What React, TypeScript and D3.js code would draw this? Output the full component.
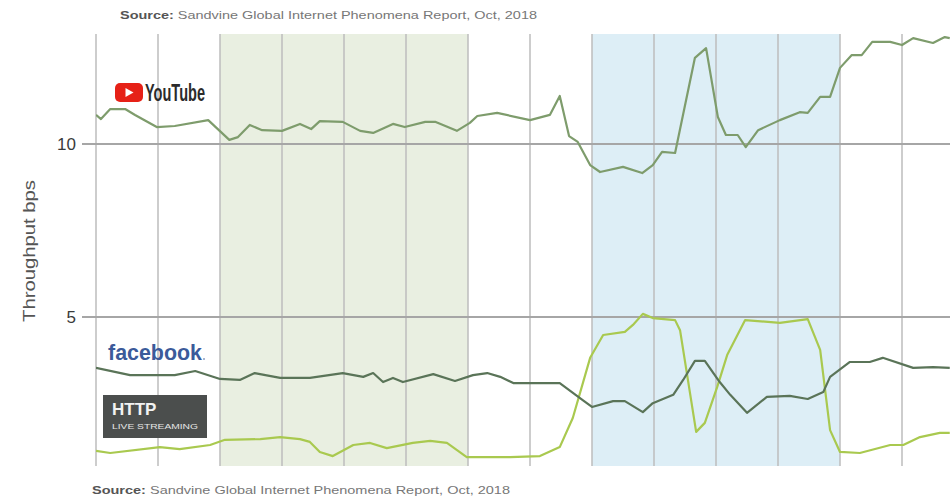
import React from 'react';
import * as d3 from 'd3';

// time axis: one unit per vertical gridline
const gridTicks = d3.range(0, 14);
const yTicks = [5, 10];
const greenBand = [2, 6];
const blueBand = [8, 12];

const youtubeT = [0, 0.08, 0.23, 0.47, 0.63, 0.98, 1.27, 1.81, 2.15, 2.29, 2.48, 2.68, 3.0, 3.29, 3.47, 3.61, 3.98, 4.26, 4.47, 4.79, 4.98, 5.31, 5.47, 5.82, 6.03, 6.15, 6.47, 7.0, 7.32, 7.48, 7.63, 7.77, 7.97, 8.13, 8.5, 8.81, 8.98, 9.13, 9.34, 9.66, 9.84, 10.03, 10.16, 10.35, 10.48, 10.68, 11.03, 11.35, 11.48, 11.68, 11.84, 12.0, 12.19, 12.35, 12.52, 12.81, 13.0, 13.18, 13.5, 13.69, 13.77];
const youtubeV = [10.84, 10.72, 11.01, 11.01, 10.84, 10.49, 10.52, 10.69, 10.12, 10.2, 10.55, 10.4, 10.38, 10.58, 10.43, 10.66, 10.64, 10.38, 10.32, 10.58, 10.49, 10.64, 10.64, 10.38, 10.61, 10.81, 10.9, 10.69, 10.84, 11.39, 10.23, 10.06, 9.39, 9.19, 9.34, 9.16, 9.39, 9.77, 9.74, 12.49, 12.77, 10.78, 10.26, 10.26, 9.91, 10.4, 10.69, 10.92, 10.9, 11.36, 11.36, 12.2, 12.57, 12.57, 12.95, 12.95, 12.86, 13.06, 12.92, 13.09, 13.06];

const facebookT = [0, 0.55, 1.27, 1.6, 2.0, 2.32, 2.56, 2.97, 3.45, 3.98, 4.31, 4.47, 4.63, 4.79, 4.95, 5.44, 5.79, 6.08, 6.31, 6.52, 6.73, 7.48, 7.85, 8.0, 8.34, 8.53, 8.82, 8.98, 9.31, 9.47, 9.66, 9.82, 10.06, 10.23, 10.5, 10.82, 11.19, 11.48, 11.73, 11.84, 12.16, 12.48, 12.69, 13.18, 13.5, 13.77];
const facebookV = [3.53, 3.32, 3.32, 3.44, 3.21, 3.18, 3.38, 3.24, 3.24, 3.38, 3.27, 3.38, 3.12, 3.24, 3.12, 3.35, 3.15, 3.32, 3.38, 3.27, 3.09, 3.09, 2.6, 2.4, 2.57, 2.57, 2.25, 2.51, 2.75, 3.18, 3.73, 3.73, 3.12, 2.75, 2.23, 2.69, 2.72, 2.63, 2.83, 3.27, 3.7, 3.7, 3.82, 3.53, 3.55, 3.53];

const httpT = [0, 0.23, 1.03, 1.35, 1.84, 2.08, 2.65, 2.97, 3.29, 3.45, 3.61, 3.82, 4.15, 4.42, 4.69, 5.11, 5.39, 5.66, 5.98, 6.31, 6.68, 7.16, 7.48, 7.69, 7.97, 8.18, 8.53, 8.66, 8.82, 8.98, 9.34, 9.42, 9.68, 9.82, 10.02, 10.18, 10.47, 11.03, 11.48, 11.68, 11.84, 12.0, 12.32, 12.81, 13.02, 13.29, 13.61, 13.77];
const httpV = [1.13, 1.07, 1.24, 1.18, 1.3, 1.45, 1.47, 1.53, 1.47, 1.39, 1.1, 0.98, 1.3, 1.36, 1.21, 1.36, 1.42, 1.36, 0.95, 0.95, 0.95, 0.98, 1.24, 2.08, 3.82, 4.48, 4.57, 4.77, 5.09, 4.97, 4.91, 4.62, 1.68, 1.94, 2.98, 3.9, 4.91, 4.83, 4.94, 4.05, 1.73, 1.1, 1.07, 1.3, 1.3, 1.53, 1.65, 1.65];

const sourceText = 'Sandvine Global Internet Phenomena Report, Oct, 2018';

const W = 950;
const H = 498;
const plotTop = 34;
const plotBottom = 466;

const App = () => {
  const x = d3.scaleLinear().domain([0, 13]).range([96, 902]);
  const y = d3.scaleLinear().domain([5, 10]).range([317, 144]);

  const line = d3.line<[number, number]>()
    .x(d => x(d[0]))
    .y(d => y(d[1]));

  const series = [
    { t: httpT, v: httpV, color: '#a9c94f' },
    { t: facebookT, v: facebookV, color: '#5a7458' },
    { t: youtubeT, v: youtubeV, color: '#7e9c6c' },
  ];

  const font = '"Liberation Sans", Arial, sans-serif';

  return (
    <svg width={W} height={H} style={{ position: 'absolute', left: 0, top: 0, background: '#fff' }} fontFamily={font}>
      <defs>
        <clipPath id="plot">
          <rect x={x(0)} y={plotTop} width={W - x(0)} height={plotBottom - plotTop} />
        </clipPath>
      </defs>

      {/* shaded periods */}
      <rect x={x(greenBand[0])} y={plotTop} width={x(greenBand[1]) - x(greenBand[0])} height={plotBottom - plotTop} fill="#e9efe1" />
      <rect x={x(blueBand[0])} y={plotTop} width={x(blueBand[1]) - x(blueBand[0])} height={plotBottom - plotTop} fill="#ddeef6" />

      {/* vertical gridlines */}
      {gridTicks.map(t => (
        <line key={t} x1={x(t)} x2={x(t)} y1={plotTop} y2={plotBottom} stroke="#bdbdbd" strokeWidth={1.5} />
      ))}

      {/* horizontal gridlines + labels */}
      {yTicks.map(v => (
        <g key={v}>
          <line x1={82} x2={W} y1={y(v)} y2={y(v)} stroke="#a6a6a6" strokeWidth={2} />
          <text x={76} y={y(v)} dy="0.36em" textAnchor="end" fontSize={17} fill="#3a3a3a">{v}</text>
        </g>
      ))}

      <text transform="translate(35,251) rotate(-90)" textAnchor="middle" fontSize={16} fill="#555" textLength={142} lengthAdjust="spacingAndGlyphs">Throughput bps</text>

      <g clipPath="url(#plot)">
        {series.map((s, i) => (
          <path key={i} d={line(s.t.map((t, j) => [t, s.v[j]] as [number, number])) || ''} fill="none" stroke={s.color} strokeWidth={2.2} strokeLinejoin="round" />
        ))}
      </g>

      {/* YouTube logo */}
      <g>
        <rect x={115} y={83} width={28} height={19} rx={5} fill="#e62117" />
        <path d="M125.5,88 L133.5,92.5 L125.5,97 Z" fill="#fff" />
        <text x={145} y={101} fontSize={24} fontWeight="bold" fill="#2b2b2b" fontFamily='"Liberation Sans Narrow", "Liberation Sans", sans-serif' textLength={60} lengthAdjust="spacingAndGlyphs">YouTube</text>
      </g>

      {/* facebook logo */}
      <text x={108} y={360} fontSize={22} fontWeight="bold" fill="#3b5a9a" textLength={94} lengthAdjust="spacingAndGlyphs">facebook</text>
      <circle cx={204} cy={359} r={0.8} fill="#3b5a9a" />

      {/* HTTP live streaming badge */}
      <rect x={103} y={395} width={104} height={43} fill="#4b4e4d" />
      <text x={112} y={415} fontSize={17} fontWeight="bold" fill="#f2f2f2">HTTP</text>
      <text x={112} y={429} fontSize={6.5} fill="#e6e6e6" textLength={86} lengthAdjust="spacingAndGlyphs">LIVE STREAMING</text>

      {/* sources */}
      <text x={120} y={19} fontSize={11} fill="#777" textLength={417} lengthAdjust="spacingAndGlyphs">
        <tspan fontWeight="bold" fill="#555">Source:</tspan> {sourceText}
      </text>
      <text x={92} y={494} fontSize={11} fill="#777" textLength={418} lengthAdjust="spacingAndGlyphs">
        <tspan fontWeight="bold" fill="#555">Source:</tspan> {sourceText}
      </text>
    </svg>
  );
};

export default App;
